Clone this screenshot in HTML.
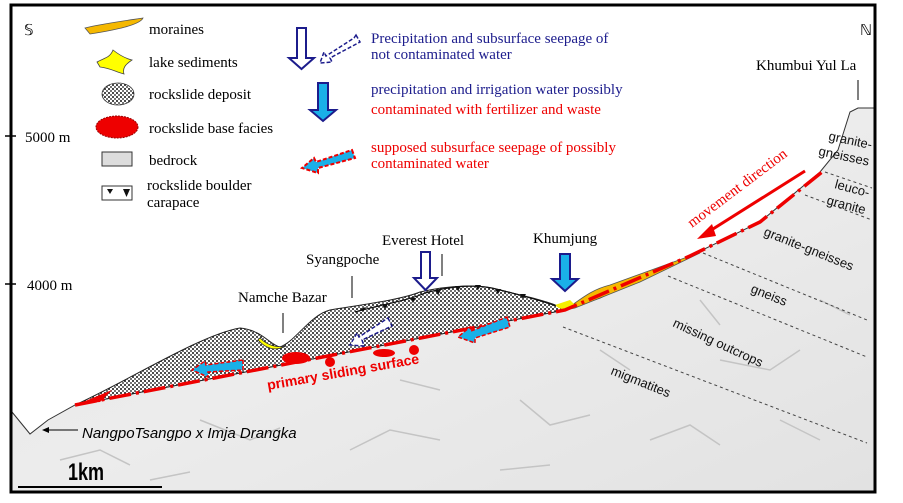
<!DOCTYPE html>
<html><head><meta charset="utf-8"><style>
body{margin:0;background:#fff}
svg{display:block}
text{font-family:"Liberation Serif",serif}
.s,.s text{font-family:"Liberation Sans",sans-serif}
</style></head><body>
<svg width="903" height="503" viewBox="0 0 903 503" xmlns="http://www.w3.org/2000/svg">
<defs>
<pattern id="dots" width="4" height="4" patternUnits="userSpaceOnUse">
<rect width="4" height="4" fill="#fff"/><circle cx="1" cy="1" r="1" fill="#111"/><circle cx="3" cy="3" r="0.9" fill="#111"/>
</pattern>
<linearGradient id="rock" x1="0" y1="0" x2="1" y2="1">
<stop offset="0" stop-color="#e6e6e6"/><stop offset="0.5" stop-color="#ececec"/><stop offset="1" stop-color="#e2e2e2"/>
</linearGradient>
</defs>
<rect width="903" height="503" fill="#fff"/>
<path d="M12,412 L30,434 L48,420 L75,405 L565,310 L600,298 L690,256 L760,222 L820,172 L838,150 L850,112 L858,108 L875,108 L875,492 L12,492 Z" fill="url(#rock)" stroke="#333" stroke-width="1"/>
<g stroke="#c4c4c4" stroke-width="1.5" fill="none">
<path d="M60,460 l40,-10 l30,15 M200,420 l50,20 l30,-12 M350,450 l40,-20 l50,10 M520,400 l30,25 l40,-10 M650,440 l40,-15 l30,20 M720,360 l50,10 l30,-20 M600,350 l30,20 M400,380 l40,10 M780,420 l40,20 M500,470 l50,-5 M150,480 l40,-8 M820,300 l30,15 M700,300 l20,25"/>
</g>
<path d="M75,405 C130,380 200,335 240,328 C262,330 270,345 280,347 C295,342 310,315 330,310 C360,305 400,300 420,292 C450,285 480,284 500,290 C520,295 545,300 563,308 L565,310 Z" fill="url(#dots)" stroke="#222" stroke-width="1"/>
<path d="M565,310 C580,300 590,290 610,285 L690,256 L700,253 L640,282 L575,308 Z" fill="#f5b800" stroke="#555" stroke-width="0.8"/>
<path d="M555,305 C560,310 568,312 575,305 L570,300 Z" fill="#f5f000"/>
<path d="M258,340 C265,348 275,352 286,346 C278,348 268,346 260,338 Z" fill="#ff0" stroke="#333" stroke-width="0.8"/>
<ellipse cx="296" cy="358" rx="14" ry="6" fill="#e00"/>
<circle cx="330" cy="362" r="5" fill="#e00"/>
<ellipse cx="384" cy="353" rx="11" ry="4" fill="#e00"/>
<circle cx="414" cy="350" r="5" fill="#e00"/>
<path d="M78,404 L112,390 L100,402 Z" fill="#e00"/>
<path d="M75,405 L565,310 L690,256 L760,222 L822,172" fill="none" stroke="#e00" stroke-width="3.5" stroke-dasharray="22,5,3,5"/>
<path d="M355,312 C380,305 410,300 425,293 C455,285 480,284 500,290 C520,295 540,300 556,306" fill="none" stroke="#111" stroke-width="1.2"/>
<g fill="#111">
<path d="M360,309 l6,-2 l-3,5z M382,304 l6,0 l-3,5z M410,298 l6,0 l-3,5z M435,290 l6,0 l-3,5z M455,286 l6,0 l-3,5z M475,285 l6,0 l-3,5z M495,289 l6,0 l-3,5z M520,294 l6,0 l-3,5z"/>
</g>
<g stroke="#444" stroke-width="1" stroke-dasharray="3,3" fill="none">
<path d="M825,172 L872,188 M805,195 L872,220 M703,253 L867,320 M668,276 L867,357 M563,327 L867,443"/>
</g>
<rect x="11" y="5" width="864" height="487" fill="none" stroke="#000" stroke-width="3"/>
<line x1="5" y1="136" x2="16" y2="136" stroke="#000" stroke-width="1.5"/>
<line x1="5" y1="284" x2="16" y2="284" stroke="#000" stroke-width="1.5"/>
<text x="25" y="142" font-size="15">5000 m</text>
<text x="27" y="290" font-size="15">4000 m</text>
<text x="24" y="35" font-size="15">𝕊</text>
<text x="860" y="35" font-size="15">ℕ</text>
<line x1="18" y1="487" x2="162" y2="487" stroke="#000" stroke-width="2"/>
<text x="68" y="480" class="s" font-size="24" font-weight="bold" transform="translate(68,480) scale(0.75,1) translate(-68,-480)">1km</text>
<path d="M85,28 C100,24 130,20 143,18 C140,25 115,30 90,34 Z" fill="#f5b800" stroke="#555" stroke-width="0.8"/>
<text x="149" y="34" font-size="15">moraines</text>
<path d="M97,62 C104,58 110,58 113,50 C118,54 124,58 132,60 C126,64 122,68 124,74 C116,72 110,68 100,67 Z" fill="#ff0" stroke="#444" stroke-width="0.8"/>
<text x="149" y="67" font-size="15">lake sediments</text>
<ellipse cx="118" cy="94" rx="16" ry="11" fill="url(#dots)" stroke="#333" stroke-width="0.8"/>
<text x="149" y="99" font-size="15">rockslide deposit</text>
<ellipse cx="117" cy="127" rx="21" ry="11" fill="#e00" stroke="#900" stroke-dasharray="2,1"/>
<text x="149" y="133" font-size="15">rockslide base facies</text>
<rect x="102" y="152" width="30" height="14" fill="#ddd" stroke="#333"/>
<text x="149" y="165" font-size="15">bedrock</text>
<rect x="102" y="186" width="30" height="14" fill="#fff" stroke="#333"/>
<path d="M107,189 l6,0 l-3,5z M123,189 l7,0 l-3.5,8z" fill="#111"/>
<text x="147" y="190" font-size="15">rockslide boulder</text>
<text x="147" y="207" font-size="15">carapace</text>
<path d="M297,28 h9 v30 h8 l-12.5,11 l-12.5,-11 h8 z" fill="#fff" stroke="#1c1c8c" stroke-width="2"/>
<path d="M356,35 L360,42 L330,58 L332,62 L320,63 L324,52 L326,56 L354,38 Z" fill="#fff" stroke="#1c1c8c" stroke-width="1.5" stroke-dasharray="4,2"/>
<text x="371" y="43" font-size="15" fill="#1c1c8c">Precipitation and subsurface seepage of</text>
<text x="371" y="59" font-size="15" fill="#1c1c8c">not contaminated water</text>
<path d="M318,83 h10 v27 h8 l-13,11 l-13,-11 h8 z" fill="#1ab0e8" stroke="#1c1c8c" stroke-width="2"/>
<text x="371" y="94" font-size="15" fill="#1c1c8c">precipitation and irrigation water possibly</text>
<text x="371" y="114" font-size="15" fill="#e00">contaminated with fertilizer and waste</text>
<path d="M352,150 L355,158 L318,168 L318,173 L302,168 L314,158 L316,162 Z" fill="#1ab0e8" stroke="#e00" stroke-width="2" stroke-dasharray="4,2"/>
<text x="371" y="152" font-size="15" fill="#e00">supposed subsurface seepage of possibly</text>
<text x="371" y="168" font-size="15" fill="#e00">contaminated water</text>
<text x="756" y="70" font-size="15">Khumbui Yul La</text>
<line x1="858" y1="80" x2="858" y2="100" stroke="#000"/>
<text x="382" y="245" font-size="15">Everest Hotel</text>
<line x1="442" y1="254" x2="442" y2="276" stroke="#000"/>
<path d="M421,252 h9 v26 h7 l-11.5,12 l-11.5,-12 h7 z" fill="#fff" stroke="#1c1c8c" stroke-width="2"/>
<text x="533" y="243" font-size="15">Khumjung</text>
<path d="M560,254 h10 v25 h8 l-13,12 l-13,-12 h8 z" fill="#1ab0e8" stroke="#1c1c8c" stroke-width="2"/>
<text x="306" y="264" font-size="15">Syangpoche</text>
<line x1="352" y1="276" x2="352" y2="298" stroke="#000"/>
<text x="238" y="302" font-size="15">Namche Bazar</text>
<line x1="283" y1="313" x2="283" y2="333" stroke="#000"/>
<path d="M388,318 L392,326 L362,340 L364,346 L350,345 L357,333 L359,337 Z" fill="#fff" stroke="#1c1c8c" stroke-width="1.5" stroke-dasharray="4,2"/>
<path d="M507,317 L510,327 L475,338 L475,343 L458,337 L470,327 L471,331 Z" fill="#1ab0e8" stroke="#e00" stroke-width="1.5" stroke-dasharray="4,2"/>
<path d="M243,360 L243,370 L208,372 L208,377 L192,370 L205,361 L206,365 Z" fill="#1ab0e8" stroke="#e00" stroke-width="1.5" stroke-dasharray="4,2"/>
<text x="268" y="390" class="s" font-size="14" font-weight="bold" fill="#e00" transform="rotate(-10 268 390)">primary sliding surface</text>
<text x="692" y="228" font-size="15" fill="#e00" transform="rotate(-37 692 228)">movement direction</text>
<line x1="805" y1="171" x2="705" y2="234" stroke="#e00" stroke-width="3"/>
<path d="M697,239 L712,224 L716,236 Z" fill="#e00"/>
<g class="s" font-size="13" fill="#111">
<text x="828" y="140" transform="rotate(12 828 140)">granite-</text>
<text x="818" y="155" transform="rotate(12 818 155)">gneisses</text>
<text x="834" y="188" transform="rotate(15 834 188)">leuco-</text>
<text x="826" y="204" transform="rotate(15 826 204)">granite</text>
<text x="763" y="235" transform="rotate(22 763 235)">granite-gneisses</text>
<text x="750" y="292" transform="rotate(22 750 292)">gneiss</text>
<text x="672" y="326" transform="rotate(25 672 326)">missing outcrops</text>
<text x="610" y="374" transform="rotate(22 610 374)">migmatites</text>
</g>
<text x="82" y="438" class="s" font-size="15" font-style="italic">NangpoTsangpo x Imja Drangka</text>
<line x1="45" y1="430" x2="78" y2="430" stroke="#000"/>
<path d="M42,430 l7,-3 l0,6z" fill="#000"/>
</svg>
</body></html>
